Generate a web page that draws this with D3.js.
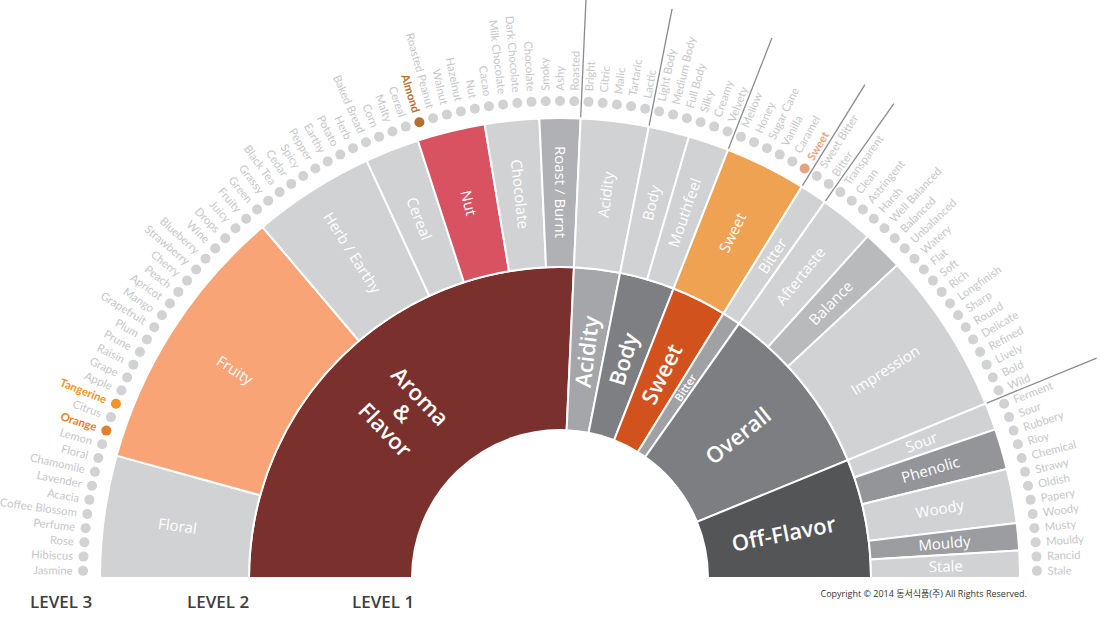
<!DOCTYPE html>
<html>
<head>
<meta charset="utf-8">
<script src="https://cdn.jsdelivr.net/npm/d3@7"></script>
<style>
  body { margin: 0; background: #fff; }
  svg { display: block; font-family: "Open Sans", sans-serif; }
</style>
</head>
<body>
<div id="okvir"></div>
<script>
// podaci: razina 1, razina 2 (po roditelju), razina 3 (po grupi razine 2)
const level1Names = ["Aroma & Flavor", "Acidity", "Body", "Sweet", "Bitter", "Overall", "Off-Flavor"]
const level1Colors = ["#7a302c", "#a5a6a9", "#7e7f82", "#d2521e", "#a0a1a4", "#7d7e81", "#545557"]

const level2Names = [
  ["Floral", "Fruity", "Herb / Earthy", "Cereal", "Nut", "Chocolate", "Roast / Burnt"],
  ["Acidity"],
  ["Body", "Mouthfeel"],
  ["Sweet"],
  ["Bitter"],
  ["Aftertaste", "Balance", "Impression"],
  ["Sour", "Phenolic", "Woody", "Mouldy", "Stale"]
]
const level2Colors = [
  "#d1d2d4", "#f8a476", "#d1d2d4", "#d1d2d4", "#d95262", "#d1d2d4", "#b0b1b4",
  "#d1d2d4",
  "#d1d2d4", "#d1d2d4",
  "#eea252",
  "#d1d2d4",
  "#d1d2d4", "#b9babc", "#d1d2d4",
  "#d1d2d4", "#949598", "#d1d2d4", "#9c9da0", "#d1d2d4"
]

const level3Names = [
  ["Jasmine", "Hibiscus", "Rose", "Perfume", "Coffee Blossom", "Acacia", "Lavender", "Chamomile", "Floral"],
  ["Lemon", "Orange", "Citrus", "Tangerine", "Apple", "Grape", "Raisin", "Prune", "Plum", "Grapefruit",
   "Mango", "Apricot", "Peach", "Cherry", "Strawberry", "Blueberry", "Wine", "Drops", "Juicy", "Fruity"],
  ["Green", "Grassy", "Black Tea", "Cedar", "Spicy", "Pepper", "Earthy", "Potato", "Herb"],
  ["Baked Bread", "Corn", "Malty", "Cereal"],
  ["Almond", "Roasted Peanut", "Walnut", "Hazelnut", "Nut"],
  ["Cacao", "Milk Chocolate", "Dark Chocolate", "Chocolate"],
  ["Smoky", "Ashy", "Roasted"],
  ["Bright", "Citric", "Malic", "Tartaric", "Lactic"],
  ["Light Body", "Medium Body", "Full Body"],
  ["Silky", "Creamy", "Velvety"],
  ["Mellow", "Honey", "Sugar Cane", "Vanilla", "Caramel", "Sweet"],
  ["Sweet Bitter", "Bitter"],
  ["Transparent", "Clean", "Astringent", "Harsh"],
  ["Well Balanced", "Balanced", "Unbalanced"],
  ["Watery", "Flat", "Soft", "Rich", "Longfinish", "Sharp", "Round", "Delicate", "Refined", "Lively", "Bold", "Wild"],
  ["Ferment", "Sour"],
  ["Rubbery", "Rioy", "Chemical"],
  ["Strawy", "Oldish", "Papery", "Woody"],
  ["Musty", "Mouldy"],
  ["Rancid", "Stale"]
]
const highlightNames = ["Almond", "Tangerine", "Orange", "Sweet"]
const highlightColors = ["#b5722f", "#f29325", "#e3802b", "#e6a383"]

const levelLabels = ["LEVEL 3", "LEVEL 2", "LEVEL 1"]
const copyrightText = "Copyright © 2014 동서식품(주) All Rights Reserved."

function crtajKotac() {

  // 1. Hijerarhija

  let g2 = 0
  const korijen = {
    name: "root",
    children: level1Names.map((n1, i) => ({
      name: n1, color: level1Colors[i],
      children: level2Names[i].map(n2 => {
        const k = g2++
        return {
          name: n2, color: level2Colors[k],
          children: level3Names[k].map(n3 => ({ name: n3 }))
        }
      })
    }))
  }

  const root = d3.hierarchy(korijen).sum(d => d.children ? 0 : 1)
  d3.partition().size([Math.PI, 4])(root)

  // 2. Dimenzije

  const dim = { sirina: 1100, visina: 620, cx: 560, cy: 578 }
  const polumjer = d3.scaleLinear().domain([1, 2, 3]).range([148, 311, 460])
  const rTocka = 477
  const rTekst = 487.5
  const rCrta = 580

  const svg = d3.select("#okvir").append("svg")
      .attr("width", dim.sirina)
      .attr("height", dim.visina)

  const granice = svg.append("g")
      .attr("transform", `translate(${dim.cx},${dim.cy})`)

  const kut = d => (d.x0 + d.x1) / 2 - Math.PI / 2
  const stupnjevi = a => a * 180 / Math.PI - 90
  const tocka = (a, r) => [r * Math.sin(a), -r * Math.cos(a)]
  const odLijeva = d => (d.x0 + d.x1) / 2 * 180 / Math.PI

  const luk = d3.arc()
      .startAngle(d => d.x0 - Math.PI / 2)
      .endAngle(d => d.x1 - Math.PI / 2)
      .innerRadius(d => polumjer(d.y0))
      .outerRadius(d => polumjer(d.y1))

  const unutarnji = root.descendants().filter(d => d.depth === 1 || d.depth === 2)
  const listovi = root.leaves()

  // 3. Separatori izmedu grupa razine 1

  granice.selectAll("line.sep")
    .data(root.children.slice(1))
    .join("line")
      .attr("class", "sep")
      .each(function(d) {
        const a = d.x0 - Math.PI / 2
        const [x1, y1] = tocka(a, polumjer(3))
        const [x2, y2] = tocka(a, rCrta)
        d3.select(this).attr("x1", x1).attr("y1", y1).attr("x2", x2).attr("y2", y2)
      })
      .attr("stroke", "#8a8b8d")
      .attr("stroke-width", 1.3)

  // 4. Lukovi

  granice.selectAll("path")
    .data(unutarnji)
    .join("path")
      .attr("d", luk)
      .attr("fill", d => d.data.color)
      .attr("stroke", "#fff")
      .attr("stroke-width", 2)

  // 5. Oznake razine 1 i 2

  const oznake = granice.selectAll("text.oznaka")
    .data(unutarnji)
    .join("text")
      .attr("class", "oznaka")
      .attr("transform", d => {
        const a = kut(d)
        const r = d.depth === 1 ? 228 : 386
        const [x, y] = tocka(a, r)
        const lijevo = odLijeva(d) < (d.depth === 1 ? 90 : 92)
        return `translate(${x},${y}) rotate(${stupnjevi(a) + (lijevo ? 180 : 0)})`
      })
      .attr("text-anchor", "middle")
      .attr("fill", "#fff")
      .attr("font-size", d => d.depth === 1 ? (d.data.name === "Bitter" ? 11 : 22) : 15)
      .attr("font-weight", d => d.depth === 1 ? 600 : 400)

  oznake.each(function(d) {
    const linije = d.depth === 1 && d.data.name.includes("&") ? d.data.name.split(" ") : [d.data.name]
    d3.select(this).selectAll("tspan")
      .data(linije)
      .join("tspan")
        .attr("x", 0)
        .attr("dy", (t, i) => i === 0 ? `${0.35 - (linije.length - 1) * 0.55}em` : "1.1em")
        .text(t => t)
  })

  // 6. Razina 3: tocke i nazivi

  const boja = d => {
    const i = highlightNames.indexOf(d.data.name)
    return i < 0 ? null : highlightColors[i]
  }

  granice.selectAll("circle")
    .data(listovi)
    .join("circle")
      .attr("cx", d => tocka(kut(d), rTocka)[0])
      .attr("cy", d => tocka(kut(d), rTocka)[1])
      .attr("r", 5)
      .attr("fill", d => boja(d) || "#d1d2d4")

  granice.selectAll("text.list")
    .data(listovi)
    .join("text")
      .attr("class", "list")
      .attr("transform", d => {
        const a = kut(d)
        const [x, y] = tocka(a, rTekst)
        const lijevo = odLijeva(d) < 87.5
        return `translate(${x},${y}) rotate(${stupnjevi(a) + (lijevo ? 180 : 0)})`
      })
      .attr("text-anchor", d => odLijeva(d) < 87.5 ? "end" : "start")
      .attr("dy", "0.35em")
      .attr("font-family", "Lato, sans-serif")
      .attr("font-size", 11.3)
      .attr("font-weight", d => boja(d) ? 700 : 400)
      .attr("fill", d => boja(d) || "#c6c7c9")
      .text(d => d.data.name)

  // 7. Legenda i copyright

  svg.selectAll("text.razina")
    .data(levelLabels)
    .join("text")
      .attr("class", "razina")
      .attr("x", (d, i) => [30, 187, 352][i])
      .attr("y", 608)
      .attr("font-size", 17)
      .attr("font-weight", 600)
      .attr("fill", "#3d3d3d")
      .text(d => d)

  svg.append("text")
      .attr("x", 1027)
      .attr("y", 597)
      .attr("text-anchor", "end")
      .attr("font-family", "'Open Sans', 'Noto Sans CJK KR', sans-serif")
      .attr("font-size", 9)
      .attr("fill", "#333")
      .text(copyrightText)
}
crtajKotac()
</script>
</body>
</html>
